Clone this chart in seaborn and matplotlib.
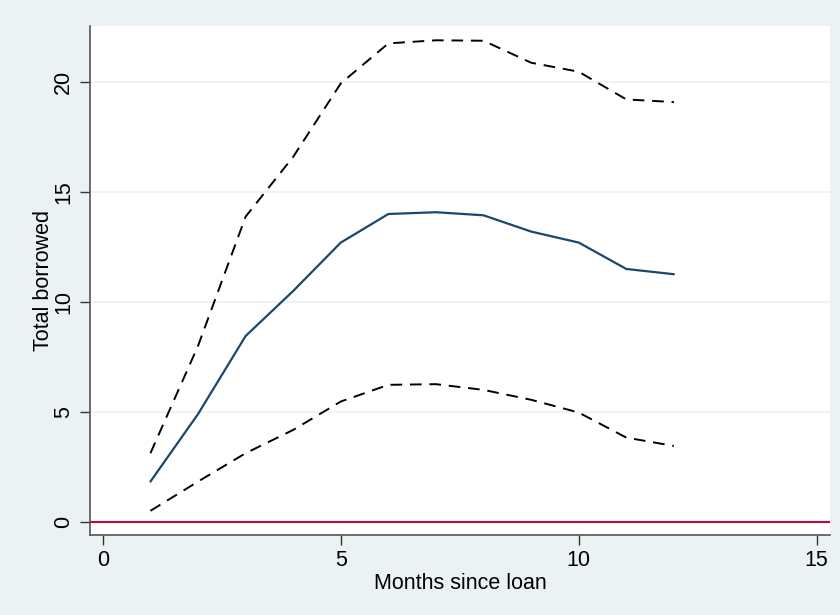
import matplotlib
matplotlib.use("Agg")
import matplotlib.pyplot as plt
import seaborn as sns
import pandas as pd

# Months since loan and estimated total borrowed with confidence bounds
months = [1, 2, 3, 4, 5, 6, 7, 8, 9, 10, 11, 12]
estimate = [1.83, 4.9, 8.45, 10.5, 12.7, 14.0, 14.08, 13.94, 13.2, 12.7, 11.5, 11.26]
upper = [3.12, 8.0, 13.88, 16.6, 19.94, 21.76, 21.9, 21.88, 20.88, 20.47, 19.21, 19.09]
lower = [0.5, 1.83, 3.12, 4.18, 5.47, 6.23, 6.26, 6.0, 5.55, 4.97, 3.83, 3.45]

x_ticks = [0, 5, 10, 15]
y_ticks = [0, 5, 10, 15, 20]

df = pd.DataFrame({"month": months, "estimate": estimate,
                   "upper": upper, "lower": lower})

sns.set_theme(style="white")
plt.rcParams["font.family"] = ["Liberation Sans", "DejaVu Sans"]

bg = "#eaf2f3"
fig = plt.figure(figsize=(8.4, 6.15), dpi=100, facecolor=bg)
ax = fig.add_axes([90 / 840, 80 / 615, 740 / 840, 509 / 615])
ax.set_facecolor("white")

# light horizontal grid
for t in y_ticks:
    ax.axhline(t, color=bg, lw=1.2, zorder=0)

# reference line at zero
ax.axhline(0, color="#c10534", lw=1.5, zorder=1)

sns.lineplot(data=df, x="month", y="upper", ax=ax, color="black",
             lw=1.4, zorder=3)
sns.lineplot(data=df, x="month", y="lower", ax=ax, color="black",
             lw=1.4, zorder=3)
for line in ax.get_lines()[-2:]:
    line.set_dashes([6, 4])
sns.lineplot(data=df, x="month", y="estimate", ax=ax, color="#1a476f",
             lw=1.6, zorder=4)

ax.set_xlim(-0.27, 15.28)
ax.set_ylim(-0.6, 22.55)
ax.set_xticks(x_ticks)
ax.set_yticks(y_ticks)
ax.set_xticklabels([str(t) for t in x_ticks])
ax.set_yticklabels([str(t) for t in y_ticks], rotation=90, va="center")

ax.set_xlabel("Months since loan", fontsize=15.5, labelpad=2, color="black")
ax.set_ylabel("Total borrowed", fontsize=15.5, labelpad=-1, color="black")

ax.tick_params(axis="both", which="major", labelsize=15.5, length=7.5,
               width=1, color="#333333", direction="out", labelcolor="black",
               left=True, bottom=True)
ax.tick_params(axis="y", pad=4)
ax.tick_params(axis="x", pad=3)

for side in ["top", "right"]:
    ax.spines[side].set_visible(False)
for side in ["left", "bottom"]:
    ax.spines[side].set_color("#555555")
    ax.spines[side].set_linewidth(1.2)

fig.savefig("out.png", dpi=100, facecolor=bg)
